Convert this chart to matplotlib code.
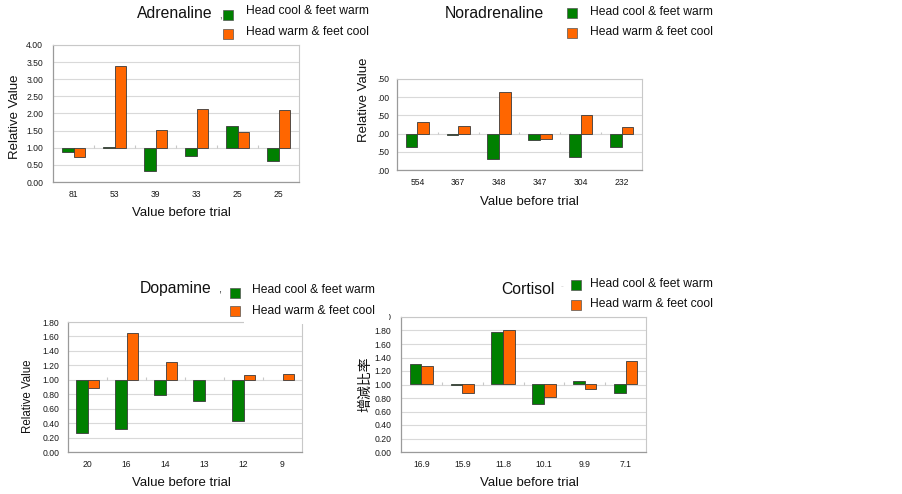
import numpy as np
import matplotlib
matplotlib.use("Agg")
import matplotlib.pyplot as plt
from matplotlib.patches import Rectangle

plt.rcParams['font.family'] = ['Liberation Sans', 'DejaVu Sans']

# ---------------- data ----------------
series_names = ["Head cool & feet warm", "Head warm & feet cool"]

adr_cats = ["81", "53", "39", "33", "25", "25"]
adr_cool = [0.89, 1.02, 0.33, 0.76, 1.64, 0.60]
adr_warm = [0.74, 3.39, 1.52, 2.14, 1.45, 2.10]

nor_cats = ["554", "367", "348", "347", "304", "232"]
nor_cool = [0.63, 0.95, 0.31, 0.83, 0.36, 0.62]
nor_warm = [1.33, 1.22, 2.15, 0.85, 1.52, 1.17]

dop_cats = ["20", "16", "14", "13", "12", "9"]
dop_cool = [0.26, 0.32, 0.79, 0.70, 0.43, np.nan]
dop_warm = [0.89, 1.65, 1.24, np.nan, 1.07, 1.08]

cor_cats = ["16.9", "15.9", "11.8", "10.1", "9.9", "7.1"]
cor_cool = [1.31, 0.99, 1.78, 0.71, 1.05, 0.88]
cor_warm = [1.28, 0.87, 1.80, 0.81, 0.93, 1.35]

adr_ticks = [0.0, 0.5, 1.0, 1.5, 2.0, 2.5, 3.0, 3.5, 4.0]
adr_ticklabels = ["0.00", "0.50", "1.00", "1.50", "2.00", "2.50", "3.00", "3.50", "4.00"]
nor_ticks = [0.0, 0.5, 1.0, 1.5, 2.0, 2.5]
nor_ticklabels = [".00", ".50", ".00", ".50", ".00", ".50"]
dop_ticks = [0.0, 0.2, 0.4, 0.6, 0.8, 1.0, 1.2, 1.4, 1.6, 1.8]
dop_ticklabels = ["0.00", "0.20", "0.40", "0.60", "0.80", "1.00", "1.20", "1.40", "1.60", "1.80"]
cor_ticks = [0.0, 0.2, 0.4, 0.6, 0.8, 1.0, 1.2, 1.4, 1.6, 1.8, 2.0]
cor_ticklabels = ["0.00", "0.20", "0.40", "0.60", "0.80", "1.00", "1.20", "1.40", "1.60", "1.80", "2.00"]

titles = ["Adrenaline", "Noradrenaline", "Dopamine", "Cortisol"]
xlabel_text = "Value before trial"
ylabel_en = "Relative Value"
ylabel_jp = "增減比率"

GREEN = "#008000"
ORANGE = "#FF6600"
EDGE = "#3a3a3a"

W, H = 902, 494
fig = plt.figure(figsize=(W / 100, H / 100), dpi=100)
fig.patch.set_facecolor("white")


def px_axes(l, t, r, b):
    return fig.add_axes([l / W, 1 - b / H, (r - l) / W, (b - t) / H])


def panel(box, cats, cool, warm, ylim, ticks, ticklabels, ypad):
    ax = px_axes(*box)
    x = np.arange(len(cats))
    bw = 0.285
    cool = np.array(cool, dtype=float)
    warm = np.array(warm, dtype=float)
    ax.bar(x - bw / 2, cool - 1.0, bottom=1.0, width=bw, color=GREEN,
           edgecolor=EDGE, linewidth=0.6, zorder=3)
    ax.bar(x + bw / 2, warm - 1.0, bottom=1.0, width=bw, color=ORANGE,
           edgecolor=EDGE, linewidth=0.6, zorder=3)
    ax.set_xlim(-0.5, len(cats) - 0.5)
    ax.set_ylim(*ylim)
    ax.set_yticks(ticks)
    ax.set_yticklabels(ticklabels)
    ax.set_xticks(x)
    ax.set_xticklabels(cats)
    ax.tick_params(axis="both", length=0, labelsize=6.2, colors="#1a1a1a")
    ax.tick_params(axis="y", pad=ypad)
    ax.tick_params(axis="x", pad=5.5)
    ax.yaxis.grid(True, color="#d9d9d9", linewidth=0.8, zorder=0)
    ax.set_axisbelow(True)
    for s in ["left", "bottom"]:
        ax.spines[s].set_color("#9a9a9a")
        ax.spines[s].set_linewidth(0.9)
    for s in ["top", "right"]:
        ax.spines[s].set_color("#c8c8c8")
        ax.spines[s].set_linewidth(0.8)
    # small category tick marks on the 1.00 crossing line
    rng = ylim[1] - ylim[0]
    bounds = np.arange(len(cats) - 1) + 0.5
    ax.vlines(bounds, 1.0, 1.0 + 0.018 * rng, color="#c8c8c8", linewidth=0.8, zorder=2)
    return ax


axA = panel((53, 45, 299, 182), adr_cats, adr_cool, adr_warm, (0, 4.0), adr_ticks, adr_ticklabels, 7.0)
axN = panel((397, 79, 642, 170), nor_cats, nor_cool, nor_warm, (0, 2.5), nor_ticks, nor_ticklabels, 5.8)
axD = panel((68, 322, 302, 452), dop_cats, dop_cool, dop_warm, (0, 1.8), dop_ticks, dop_ticklabels, 6.3)
axC = panel((401, 317, 646, 452), cor_cats, cor_cool, cor_warm, (0, 2.0), cor_ticks, cor_ticklabels, 7.0)

# overlay for titles, legends, labels (pixel coordinates)
ov = fig.add_axes([0, 0, 1, 1], zorder=10)
ov.set_xlim(0, W)
ov.set_ylim(H, 0)
ov.axis("off")
ov.patch.set_alpha(0)

# white box from the pasted legend that hides part of the lower charts
ov.add_patch(Rectangle((244, 300), 145, 23.5, facecolor="white", edgecolor="none", zorder=1))

title_pos = [(137, 14), (445, 14), (140, 288), (501, 289)]
for (tx, ty), t in zip(title_pos, titles):
    ov.text(tx, ty, t, fontsize=11.3, ha="left", va="center", color="#111111", zorder=3)
ov.text(219.5, 16, ",", fontsize=7, ha="left", va="center", color="#333333", zorder=3)
ov.text(218, 289, ",", fontsize=8, ha="left", va="center", color="#333333", zorder=3)
ov.text(561, 287, "-", fontsize=6, ha="left", va="center", color="#cccccc", zorder=3)

# legends: (square left, first square top, second square top, text x, text y1, text y2)
legends = [
    (223, 10, 29, 246, 11, 32),
    (567, 8, 28, 590, 12, 32),
    (230, 288, 306, 252, 290, 311),
    (571, 280, 300, 590, 284, 304),
]
for lx, t1, t2, tx, y1, y2 in legends:
    ov.add_patch(Rectangle((lx, t1), 10, 10, facecolor=GREEN, edgecolor="#555555", linewidth=0.5, zorder=3))
    ov.add_patch(Rectangle((lx, t2), 10, 10, facecolor=ORANGE, edgecolor="#555555", linewidth=0.5, zorder=3))
    ov.text(tx, y1, series_names[0], fontsize=8.7, ha="left", va="center", color="#111111", zorder=3)
    ov.text(tx, y2, series_names[1], fontsize=8.7, ha="left", va="center", color="#111111", zorder=3)

# x labels
for (cx, cy) in [(181, 213), (529, 202), (181, 483), (529, 483)]:
    ov.text(cx, cy, xlabel_text, fontsize=9.5, ha="center", va="center", color="#111111", zorder=3)

# y labels
ov.text(15, 117, ylabel_en, fontsize=9.5, rotation=90, ha="center", va="center", color="#111111", zorder=3)
ov.text(364, 100, ylabel_en, fontsize=9.5, rotation=90, ha="center", va="center", color="#111111", zorder=3)
ov.text(28, 396, ylabel_en, fontsize=8.3, rotation=90, ha="center", va="center", color="#111111", zorder=3)
ov.text(365, 384, ylabel_jp, fontsize=10, rotation=90, ha="center", va="center", color="#111111",
        family=["Noto Sans CJK TC", "Noto Sans CJK JP", "DejaVu Sans"], zorder=3)

fig.savefig("out.png", dpi=100, facecolor="white")
